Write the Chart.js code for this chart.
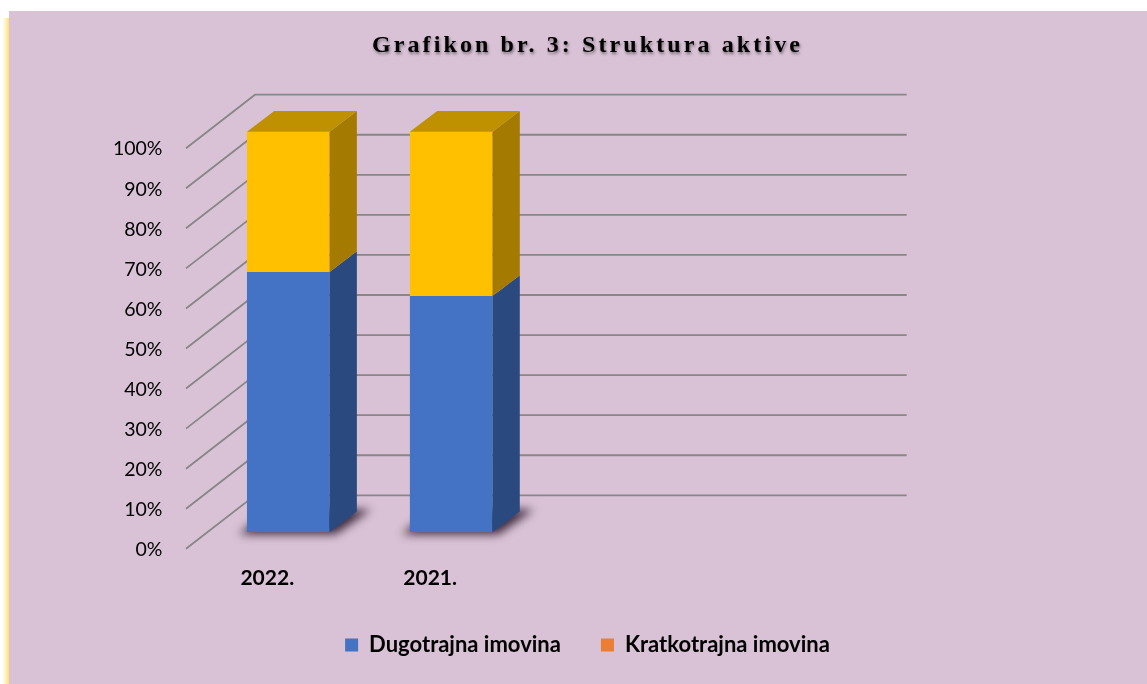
<!DOCTYPE html>
<html>
<head>
<meta charset="utf-8">
<script src="https://cdn.jsdelivr.net/npm/chart.js@4.4.1/dist/chart.umd.min.js"></script>
<style>
  html, body { margin: 0; padding: 0; background: #ffffff; overflow: hidden; }
  #c { display: block; }
</style>
</head>
<body>
<canvas id="c" width="1147" height="684"></canvas>
<script>
// ---------- data ----------
const chartTitle = 'Grafikon br. 3: Struktura aktive';
const categories = ['2022.', '2021.', '', ''];
const seriesNames = ['Dugotrajna imovina', 'Kratkotrajna imovina'];
const dugotrajnaImovina = [65, 59, null, null];
const kratkotrajnaImovina = [35, 41, null, null];
const yTickValues = [0, 10, 20, 30, 40, 50, 60, 70, 80, 90, 100];

// ---------- styles ----------
const BG = 'rgb(217,194,214)';
const GRID = '#878787';
const faceColors = ['#4472C4', '#FFC000'];
const sideColors = ['#2A4A7F', '#A47A00'];
const topColors = ['#3A64B0', '#BF9000'];
const legendColors = ['#4472C4', '#ED7D31'];
const FRONT = { dx: -20.8, dy: 16.5 };   // front plane offset from bar-face plane
const BACK = { dx: 48.2, dy: -37 };      // back wall offset from bar-face plane
const DEPTH = { dx: 27.3, dy: -20.7 };   // bar depth

function poly(ctx, pts, fill) {
  ctx.beginPath();
  ctx.moveTo(pts[0][0], pts[0][1]);
  for (let i = 1; i < pts.length; i++) ctx.lineTo(pts[i][0], pts[i][1]);
  ctx.closePath();
  ctx.fillStyle = fill;
  ctx.fill();
}

const threeD = {
  id: 'threeD',
  afterLayout(chart) {
    const tb = chart.titleBlock;
    if (tb && !tb._wrapped) {
      const orig = tb.draw.bind(tb);
      tb.draw = function () {
        const ctx = chart.ctx;
        ctx.save();
        ctx.letterSpacing = '3.1px';
        ctx.shadowColor = 'rgba(0,0,0,0.45)';
        ctx.shadowOffsetX = 1;
        ctx.shadowOffsetY = 2;
        ctx.shadowBlur = 3;
        orig();
        ctx.restore();
      };
      tb._wrapped = true;
    }
  },
  beforeDraw(chart) {
    const ctx = chart.ctx;
    ctx.save();
    ctx.fillStyle = '#ffffff';
    ctx.fillRect(0, 0, chart.width, chart.height);
    const g = ctx.createLinearGradient(2, 0, 9, 0);
    g.addColorStop(0, 'rgba(255,235,140,0)');
    g.addColorStop(1, 'rgba(255,222,100,0.95)');
    ctx.fillStyle = g;
    ctx.fillRect(2, 18, 7, chart.height - 18);
    ctx.fillStyle = BG;
    ctx.fillRect(9, 11, chart.width - 9, chart.height - 11);
    ctx.restore();
  },
  beforeDatasetsDraw(chart) {
    const { ctx } = chart;
    const x = chart.scales.x, y = chart.scales.y;
    ctx.save();
    ctx.strokeStyle = GRID;
    ctx.lineWidth = 1.8;
    ctx.lineCap = 'butt';
    for (const v of yTickValues) {
      const py = y.getPixelForValue(v);
      ctx.beginPath();
      ctx.moveTo(x.left + FRONT.dx, py + FRONT.dy);
      ctx.lineTo(x.left + BACK.dx, py + BACK.dy);
      ctx.lineTo(x.right + BACK.dx, py + BACK.dy);
      ctx.stroke();
    }
    // floor shadows under the bars
    const meta0 = chart.getDatasetMeta(0);
    ctx.filter = 'blur(5px)';
    meta0.data.forEach((el, i) => {
      if (dugotrajnaImovina[i] == null) return;
      const xl = el.x - el.width / 2, xr = el.x + el.width / 2, b = el.base;
      poly(ctx, [
        [xl - 8, b + 2], [xr + 6, b + 2],
        [xr + DEPTH.dx + 14, b + DEPTH.dy - 2], [xl + DEPTH.dx - 4, b + DEPTH.dy - 2]
      ], 'rgba(35,15,35,0.85)');
    });
    ctx.filter = 'none';
    ctx.restore();
  },
  afterDatasetsDraw(chart) {
    const { ctx } = chart;
    ctx.save();
    const n = chart.data.labels.length;
    const ds = chart.data.datasets;
    for (let i = 0; i < n; i++) {
      let topIdx = -1;
      ds.forEach((d, k) => {
        const v = d.data[i];
        if (v == null || v === 0) return;
        topIdx = k;
        const el = chart.getDatasetMeta(k).data[i];
        const xr = el.x + el.width / 2;
        poly(ctx, [
          [xr, el.y], [xr + DEPTH.dx, el.y + DEPTH.dy],
          [xr + DEPTH.dx, el.base + DEPTH.dy], [xr, el.base]
        ], sideColors[k]);
      });
      if (topIdx >= 0) {
        const el = chart.getDatasetMeta(topIdx).data[i];
        const xl = el.x - el.width / 2, xr = el.x + el.width / 2;
        poly(ctx, [
          [xl, el.y], [xr, el.y],
          [xr + DEPTH.dx, el.y + DEPTH.dy], [xl + DEPTH.dx, el.y + DEPTH.dy]
        ], topColors[topIdx]);
      }
    }
    ctx.restore();
  }
};

new Chart(document.getElementById('c'), {
  type: 'bar',
  data: {
    labels: categories,
    datasets: [
      { label: seriesNames[0], data: dugotrajnaImovina, backgroundColor: faceColors[0], borderWidth: 0 },
      { label: seriesNames[1], data: kratkotrajnaImovina, backgroundColor: faceColors[1], borderWidth: 0 }
    ]
  },
  options: {
    responsive: false,
    animation: false,
    layout: { padding: { top: 11, left: 28, right: 0, bottom: 18 } },
    datasets: { bar: { categoryPercentage: 1, barPercentage: 0.507 } },
    scales: {
      x: {
        stacked: true,
        grid: { display: false, drawTicks: false },
        border: { display: false },
        ticks: {
          color: '#000',
          font: { family: 'Lato', size: 21, weight: 'bold' },
          padding: 32.9,
          labelOffset: -21,
          maxRotation: 0,
          autoSkip: false
        },
        afterFit(s) { s.height = 61.7; }
      },
      y: {
        stacked: true,
        min: 0,
        max: 100,
        grid: { display: false, drawTicks: false },
        border: { display: false },
        afterBuildTicks(s) { s.ticks = yTickValues.map(v => ({ value: v })); },
        ticks: {
          color: '#000',
          font: { family: 'Lato', size: 19.5 },
          padding: 44.3,
          labelOffset: 17.5,
          callback: v => v + '%'
        },
        afterFit(s) { s.width = 178.8; }
      },
      yRight: {
        type: 'linear',
        position: 'right',
        display: true,
        grid: { display: false, drawTicks: false },
        border: { display: false },
        ticks: { display: false },
        afterFit(s) { s.width = 288.5; }
      }
    },
    plugins: {
      title: {
        display: true,
        text: chartTitle,
        color: '#000',
        font: { family: 'Liberation Serif', size: 24, weight: 'bold' },
        padding: { top: 20.1, bottom: 71.8 }
      },
      legend: {
        position: 'bottom',
        labels: {
          color: '#000',
          font: { family: 'Lato', size: 22, weight: 'bold' },
          boxWidth: 13,
          boxHeight: 13,
          padding: 40,
          generateLabels(chart) {
            const items = Chart.defaults.plugins.legend.labels.generateLabels(chart);
            items.forEach((it, i) => {
              it.fillStyle = legendColors[i];
              it.strokeStyle = legendColors[i];
              it.lineWidth = 0;
            });
            return items;
          }
        }
      },
      tooltip: { enabled: false }
    }
  },
  plugins: [threeD]
});
</script>
</body>
</html>
